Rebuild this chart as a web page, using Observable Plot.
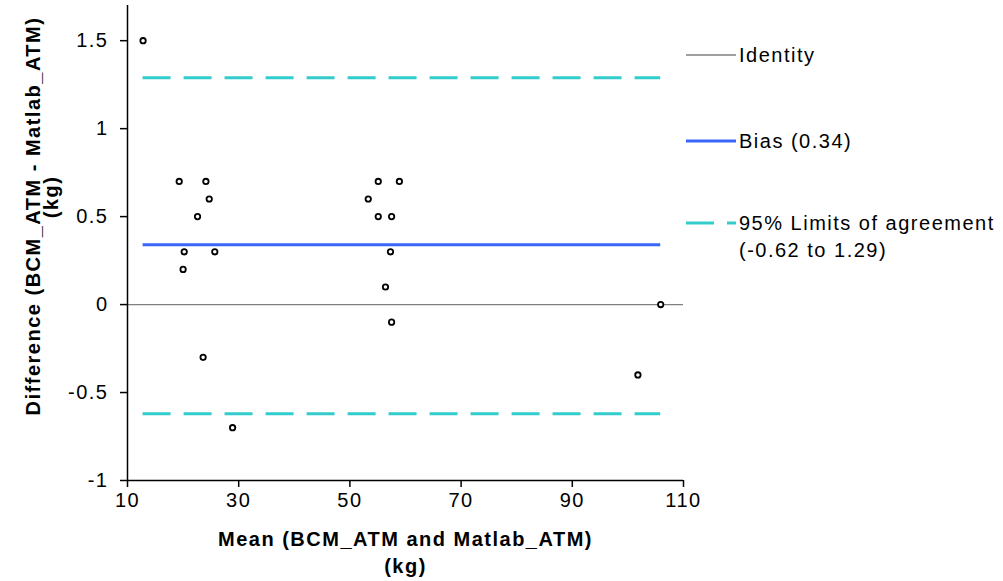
<!DOCTYPE html>
<html>
<head>
<meta charset="utf-8">
<script src="https://cdn.jsdelivr.net/npm/d3@7"></script>
<script src="https://cdn.jsdelivr.net/npm/@observablehq/plot@0.6"></script>
<style>
  html, body { margin: 0; padding: 0; background: #fff; }
  #chart { width: 1003px; height: 581px; }
</style>
</head>
<body>
<div id="chart"></div>
<script>
// ---- data ----
const means = [12.8, 19.3, 24.1, 24.7, 22.6, 20.2, 25.7, 20.0, 23.6, 28.9,
               55.1, 58.9, 53.3, 55.1, 57.5, 57.3, 56.4, 57.5, 105.9, 101.8];
const diffs = [1.5, 0.7, 0.7, 0.6, 0.5, 0.3, 0.3, 0.2, -0.3, -0.7,
               0.7, 0.7, 0.6, 0.5, 0.5, 0.3, 0.1, -0.1, 0, -0.4];
const bias = 0.34;
const loaLower = -0.62;
const loaUpper = 1.29;
const xTicks = [10, 30, 50, 70, 90, 110];
const yTicks = [-1, -0.5, 0, 0.5, 1, 1.5];
const xTitle = ["Mean (BCM_ATM and Matlab_ATM)", "(kg)"];
const yTitle = ["Difference (BCM_ATM - Matlab_ATM)", "(kg)"];
const legendItems = [
  {label: ["Identity"], stroke: "#808080", width: 1.3, dash: null},
  {label: ["Bias (0.34)"], stroke: "#3a66f5", width: 3, dash: null},
  {label: ["95% Limits of agreement", "(-0.62 to 1.29)"], stroke: "#33cccc", width: 3, dash: "28,13"}
];

const points = means.map((m, i) => ({mean: m, diff: diffs[i]}));
const xMin = d3.min(means), xMax = d3.max(means);
const font = "'Liberation Sans', Arial, sans-serif";
const fs = 20;
const ls = "1.5px";

const plot = Plot.plot({
  width: 1003,
  height: 581,
  marginLeft: 127,
  marginRight: 320,
  marginTop: 5,
  marginBottom: 101,
  style: {fontFamily: font, fontSize: fs + "px", letterSpacing: ls, color: "#000", background: "#fff", overflow: "visible"},
  x: {domain: [10, 110]},
  y: {domain: [-1, 1.7]},
  marks: [
    Plot.ruleY([0], {stroke: "#808080", strokeWidth: 1.3}),
    Plot.ruleY([bias], {x1: xMin, x2: xMax, stroke: "#3a66f5", strokeWidth: 3}),
    Plot.ruleY([loaLower, loaUpper], {x1: xMin, x2: xMax, stroke: "#33cccc", strokeWidth: 3, strokeDasharray: "28,13"}),
    Plot.ruleX([10], {stroke: "#000", strokeWidth: 1.5}),
    Plot.ruleY([-1], {stroke: "#000", strokeWidth: 1.5}),
    Plot.axisX({ticks: xTicks, tickSize: 7, tickPadding: 5, label: null, fontSize: fs, tickFormat: d => String(d), strokeWidth: 1.5}),
    Plot.axisY({ticks: yTicks, tickSize: 7, tickPadding: 12, label: null, fontSize: fs, tickFormat: d => String(d), strokeWidth: 1.5}),
    Plot.dot(points, {x: "mean", y: "diff", r: 2.7, stroke: "#000", strokeWidth: 1.8, fill: "#fff"}),
    Plot.text([xTitle[0]], {frameAnchor: "bottom", lineAnchor: "middle", textAnchor: "middle", dy: 59, fontWeight: "bold", fontSize: fs, text: d => d}),
    Plot.text([xTitle[1]], {frameAnchor: "bottom", lineAnchor: "middle", textAnchor: "middle", dy: 86, fontWeight: "bold", fontSize: fs, text: d => d}),
    Plot.text([yTitle[0]], {frameAnchor: "left", lineAnchor: "middle", textAnchor: "middle", dx: -94, dy: -27, rotate: -90, fontWeight: "bold", fontSize: fs, text: d => d}),
    Plot.text([yTitle[1]], {frameAnchor: "left", lineAnchor: "middle", textAnchor: "middle", dx: -76, dy: -46, rotate: -90, fontWeight: "bold", fontSize: fs, text: d => d})
  ]
});

document.getElementById("chart").appendChild(plot);

// ---- legend (drawn beside the plot area) ----
const svg = d3.select(plot);
const lg = svg.append("g")
  .attr("font-family", font).attr("font-size", fs)
  .attr("text-anchor", "start").style("letter-spacing", ls);
const rowY = [55, 141, 223];
legendItems.forEach((it, i) => {
  const y = rowY[i];
  const line = lg.append("line")
    .attr("x1", 686).attr("x2", 736).attr("y1", y).attr("y2", y)
    .attr("stroke", it.stroke).attr("stroke-width", it.width);
  if (it.dash) line.attr("stroke-dasharray", it.dash);
  it.label.forEach((t, j) => {
    lg.append("text").attr("x", 739).attr("y", y + j * 27).attr("dy", "0.35em")
      .attr("text-anchor", "start").text(t);
  });
});
</script>
</body>
</html>
